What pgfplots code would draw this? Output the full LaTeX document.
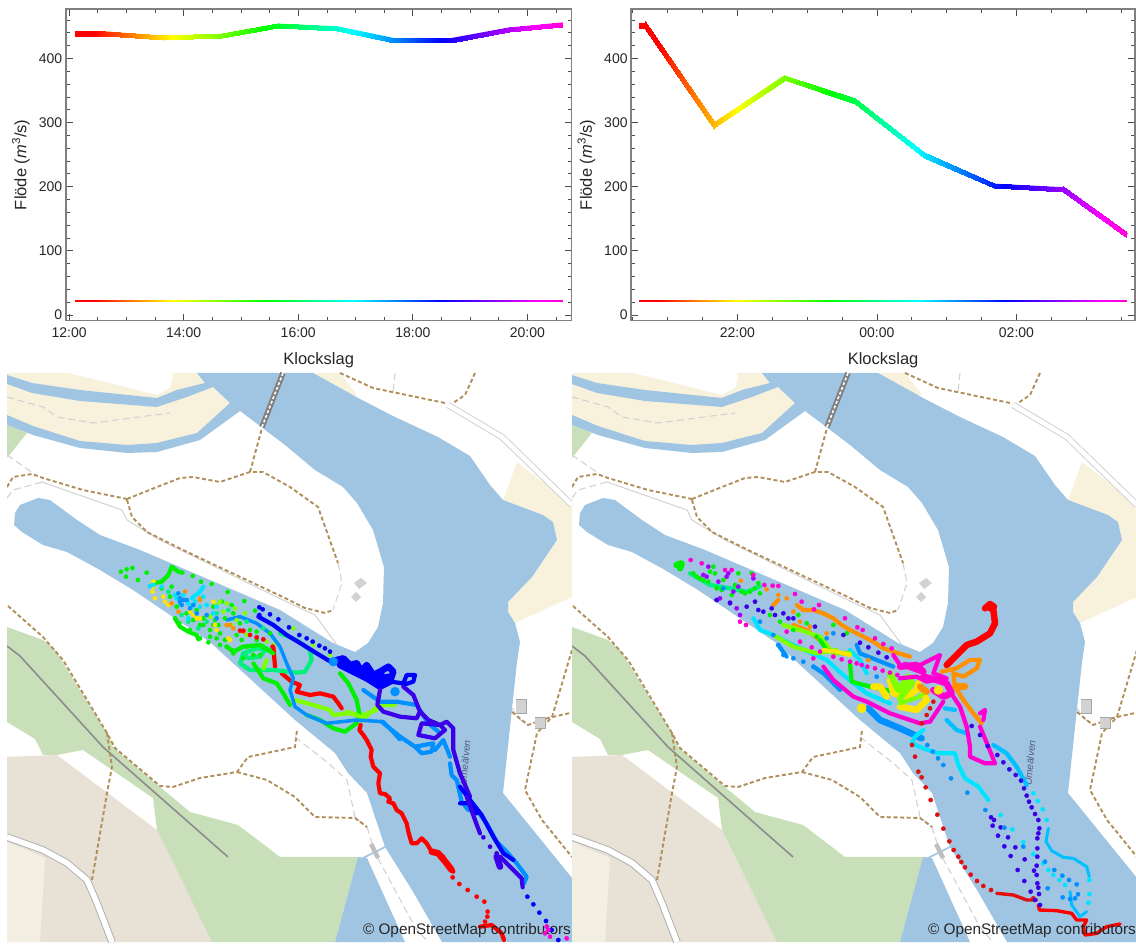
\documentclass[border=0pt]{standalone}
\usepackage{fontspec}
\setmainfont{Liberation Sans}
\usepackage{pgfplots}
\pgfplotsset{compat=1.18}
\definecolor{wat}{HTML}{A0C5E3}
\definecolor{crm}{HTML}{F8F2DD}
\definecolor{grn}{HTML}{C9DFB9}
\definecolor{tan1}{HTML}{E8E1D5}
\definecolor{tan2}{HTML}{F3EFE2}
\definecolor{pth}{HTML}{B08F5B}
\definecolor{gl}{HTML}{D2D2D2}
\definecolor{cre}{HTML}{FF0000}
\definecolor{cdr}{HTML}{E01010}
\definecolor{cor}{HTML}{FF9000}
\definecolor{cyl}{HTML}{FFE600}
\definecolor{clm}{HTML}{80FF00}
\definecolor{cgr}{HTML}{00F000}
\definecolor{csg}{HTML}{00F080}
\definecolor{ccy}{HTML}{00E5FF}
\definecolor{cc2}{HTML}{00C0FF}
\definecolor{caz}{HTML}{0090FF}
\definecolor{cbl}{HTML}{0000FF}
\definecolor{cvi}{HTML}{3A00E8}
\definecolor{cpu}{HTML}{A000FF}
\definecolor{cmg}{HTML}{FF00D0}
\pgfplotsset{
  colormap={rb}{rgb255(0cm)=(255,0,0); rgb255(0.4cm)=(255,0,0); rgb255(2cm)=(255,255,0); rgb255(3.9cm)=(0,255,0); rgb255(5.7cm)=(0,255,255); rgb255(7.5cm)=(0,0,255); rgb255(9.5cm)=(255,0,255); rgb255(10cm)=(255,0,210)},
  z3/.style={x filter/.expression={100+x/3},y filter/.expression={550+y/3}},
  z4/.style={x filter/.expression={300+x/3},y filter/.expression={640+y/3}},
  z5/.style={x filter/.expression={95+x/3},y filter/.expression={550+y/3}},
  z6/.style={x filter/.expression={315+x/3},y filter/.expression={720+y/3}},
  z11/.style={x filter/.expression={295+x/3},y filter/.expression={590+y/3}},
  trk/.style={line width=4.2pt,line cap=round,line join=round},
  trb/.style={line width=6.5pt,line cap=round,line join=round},
  dot/.style={only marks,mark=*,mark size=2.1pt,mark options={draw=none,solid}},
  pd/.style={color=pth,line width=1.9pt,dash pattern=on 4pt off 2.6pt},
  gd/.style={color=gl,line width=1.1pt,dash pattern=on 7pt off 4pt},
  topax/.style={
    scale only axis, anchor=center, colormap name=rb,
    ymin=-8.9,ymax=477,
    ytick={0,100,200,300,400},
    minor ytick={20,40,60,80,120,140,160,180,220,240,260,280,320,340,360,380,420,440,460},
    major tick length=7pt, minor tick length=4pt,
    every tick/.style={color=black!70,line width=0.7pt},
    axis line style={color=black!50,line width=1.4pt},
    tick label style={font=\fontsize{14}{16}\selectfont,text=black!85},
    xticklabel style={yshift=-4pt},
    /pgf/number format/assume math mode=true,
    xlabel={Klockslag}, ylabel={Flöde (\textit{m}\textsuperscript{3}/s)},
    every axis x label/.style={at={(axis description cs:0.5,-0.126)},anchor=center,font=\fontsize{16.5}{18}\selectfont,text=black!85},
    every axis y label/.style={at={(axis description cs:-0.0886,0.5)},rotate=90,anchor=center,font=\fontsize{16.5}{18}\selectfont,text=black!85},
    shader=interp,
  },
  mapax/.style={scale only axis,hide axis,anchor=center,width=565pt,height=569pt,
    xmin=7,xmax=572,ymin=373,ymax=942,y dir=reverse,clip=true},
}
\newcommand\maplayer{%
\addplot[fill=crm,draw=none] coordinates {(7,373)(197,373)(232,405)(200,435)(157,446)(127,448)(80,443)(33,428)(7,417)};
\addplot[fill=white,draw=none] coordinates {(68,373)(110,383)(157,395)(170,388)(173,377)(172,373)};
\addplot[fill=crm,draw=none] coordinates {(313,373)(340,373)(357,395)(340,395)};
\addplot[fill=crm,draw=none] coordinates {(517,462)(572,505)(572,597)(515,623)(508,612)(508,602)(532,577)(557,540)(553,522)(543,515)(503,500)};
\addplot[fill=grn,draw=none] coordinates {(7,425)(27,433)(7,458)};
\addplot[fill=tan1,draw=none] coordinates {(7,757)(57,755)(157,830)(212,942)(7,942)};
\addplot[fill=tan2,draw=none] coordinates {(7,842)(45,858)(40,942)(7,942)};
\addplot[fill=grn,draw=none] coordinates {(7,627)(43,640)(55,650)(107,733)(113,747)(160,787)(190,812)(238,825)(267,847)(280,857)(358,857)(335,942)(212,942)(157,830)(153,798)(83,750)(57,755)(43,755)(35,739)(7,722)};
\addplot[fill=wat,draw=none] coordinates {(197,373)(313,373)(360,399)(395,417)(438,437)(470,456)(490,485)(503,500)(543,515)(553,522)(557,540)(532,577)(508,602)(508,612)(515,623)(520,642)(517,662)(503,793)(572,878)(572,942)(442,942)(412,890)(385,847)(367,793)(348,773)(335,753)(295,720)(210,642)(133,590)(100,570)(67,552)(43,545)(22,532)(14,525)(15,513)(20,505)(38,498)(50,500)(77,520)(100,535)(140,550)(280,610)(333,643)(355,652)(368,643)(378,627)(383,603)(384,567)(373,530)(357,503)(343,487)(315,470)(285,445)(260,426)(240,411)(200,440)(157,452)(127,453)(80,448)(33,435)(7,425)(7,415)(33,426)(80,441)(127,445)(157,443)(197,433)(230,403)(213,387)(187,397)(157,407)(80,401)(32,393)(7,384)(7,375)(32,383)(80,390)(157,398)(177,390)(205,383)(197,373)};
\addplot[fill=wat,draw=none] coordinates {(358,857)(335,942)(405,942)(367,858)};
\addplot[color=wat,line width=1.6pt] coordinates {(363,858)(385,847)};
\addplot[color=black!30,line width=7.5pt] coordinates {(7,837)(43,850)(67,863)(87,880)(97,903)(112,942)};
\addplot[color=white,line width=5.5pt] coordinates {(7,837)(43,850)(67,863)(87,880)(97,903)(112,942)};
\addplot[color=gl,line width=6.5pt] coordinates {(448,405)(502,437)(572,505)};
\addplot[color=white,line width=4.5pt] coordinates {(448,405)(502,437)(572,505)};
\addplot[color=black!45,line width=1.6pt] coordinates {(7,646)(20,656)(103,747)(228,857)};
\addplot[color=gl,line width=1pt] coordinates {(42,482)(122,510)(127,520)(160,540)(287,602)(315,615)(337,645)};
\addplot[color=black!50,line width=5.5pt] coordinates {(283,373)(262,427)};
\addplot[color=white,line width=1.6pt,dash pattern=on 3pt off 2pt] coordinates {(283,373)(262,427)};
\addplot[gd] coordinates {(7,397)(43,407)(57,417)(93,423)(170,413)};
\addplot[gd] coordinates {(7,455)(33,473)};
\addplot[gd] coordinates {(7,498)(13,490)(42,482)};
\addplot[gd] coordinates {(338,563)(342,583)(333,610)};
\addplot[gd] coordinates {(395,373)(393,392)};
\addplot[gd] coordinates {(295,737)(328,763)(347,780)(355,817)(367,827)(375,853)(415,927)(428,942)};
\addplot[gd] coordinates {(512,708)(518,718)(528,725)};
\addplot[pd] coordinates {(7,487)(13,477)(32,474)(43,478)(83,490)(127,499)};
\addplot[pd] coordinates {(127,499)(157,487)(180,478)(193,477)(220,482)(250,472)(263,472)(290,487)(318,507)(338,563)};
\addplot[pd] coordinates {(250,472)(262,428)};
\addplot[pd] coordinates {(127,500)(132,517)(147,532)(183,550)(285,598)(305,608)(325,613)(333,610)};
\addplot[pd] coordinates {(340,373)(373,388)(445,403)};
\addplot[pd] coordinates {(475,373)(465,395)(453,403)};
\addplot[pd] coordinates {(8,606)(43,637)(63,660)(107,733)(115,748)(160,786)(173,787)(200,778)(237,772)(248,757)(295,747)(297,730)};
\addplot[pd] coordinates {(237,772)(267,780)(295,797)(315,817)(355,818)(367,827)};
\addplot[pd] coordinates {(107,733)(112,767)(107,793)(92,880)};
\addplot[pd] coordinates {(572,650)(552,717)(537,733)(525,790)(542,820)(572,857)};
\addplot[pd] coordinates {(512,712)(528,725)(548,718)(570,713)};
\addplot[fill=gl,draw=none] coordinates {(361,578)(367,583)(359,589)(354,583)};
\addplot[fill=gl,draw=none] coordinates {(356,592)(361,597)(356,602)(351,597)};
\addplot[fill=gl,draw=black!35,line width=0.5pt] coordinates {(516,699)(526,699)(526,713)(516,713)};
\addplot[fill=gl,draw=black!35,line width=0.5pt] coordinates {(535,717)(545,717)(545,728)(535,728)};
\addplot[fill=black!25,draw=none] coordinates {(369,845)(373,843)(380,857)(376,859)};
\node[rotate=85,text=black!45!blue!30!gray,font=\fontsize{10}{12}\selectfont\itshape] at (axis cs:465,763) {Umeälven};
}
\newcommand\mapcredit{%
\node[anchor=east,text=black!85,font=\fontsize{15.3}{17}\selectfont,inner sep=0pt] at (axis cs:571,931) {© OpenStreetMap contributors};
}
\begin{document}
\begin{tikzpicture}
\path[use as bounding box] (0pt,0pt) rectangle (1136pt,944pt);
%--- top left
\begin{axis}[topax,width=505.7pt,height=311.7pt,at={(318.65pt,779.15pt)},
  xmin=11.942,xmax=20.77,xtick={12,14,16,18,20},xticklabels={12:00,14:00,16:00,18:00,20:00},
  minor xtick={12.5,13,13.5,14.5,15,15.5,16.5,17,17.5,18.5,19,19.5,20.5},
  point meta min=12.095,point meta max=20.62]
\addplot[mesh,point meta=x,line width=4pt] coordinates {(12.095,439)(12.635,439)(13.65,432)(14.67,435)(15.65,451)(16.67,447)(17.67,428.6)(18.67,428.6)(19.68,445)(20.62,453)};
\addplot[patch,patch type=rectangle,point meta=x] coordinates {
(12.095,435.1)(12.635,435.1)(12.635,442.9)(12.095,442.9)
(12.635,435.1)(13.65,428.1)(13.65,435.9)(12.635,442.9)
(13.65,428.1)(14.67,431.1)(14.67,438.9)(13.65,435.9)
(14.67,431.1)(15.65,447.1)(15.65,454.9)(14.67,438.9)
(15.65,447.1)(16.67,443.1)(16.67,450.9)(15.65,454.9)
(16.67,443.1)(17.67,424.7)(17.67,432.5)(16.67,450.9)
(17.67,424.7)(18.67,424.7)(18.67,432.5)(17.67,432.5)
(18.67,424.7)(19.68,441.1)(19.68,448.9)(18.67,432.5)
(19.68,441.1)(20.62,449.1)(20.62,456.9)(19.68,448.9)};
\addplot[patch,patch type=rectangle,point meta=x] coordinates {
(12.095,20.5)(20.62,20.5)(20.62,23.1)(12.095,23.1)};
\end{axis}
%--- top right
\begin{axis}[topax,width=504pt,height=311.7pt,at={(883.1pt,779.15pt)},
  xmin=20.478,xmax=27.70,xtick={22,24,26},xticklabels={22:00,00:00,02:00},
  minor xtick={20.5,21,21.5,22.5,23,23.5,24.5,25,25.5,26.5,27,27.5},
  point meta min=20.59,point meta max=27.58]
\addplot[mesh,point meta=x,line width=4pt] coordinates {(20.59,452)(20.68,452)(21.67,296)(22.67,370)(23.68,333.5)(24.68,249.4)(25.68,201.6)(26.67,196)(27.58,124.7)};
\addplot[patch,patch type=rectangle,point meta=x] coordinates {
(20.59,448.1)(20.68,448.1)(20.68,455.9)(20.59,455.9)
(20.68,445.14)(21.67,289.14)(21.67,302.86)(20.68,458.86)
(21.67,291.28)(22.67,365.28)(22.67,374.72)(21.67,300.72)
(22.67,365.89)(23.68,329.39)(23.68,337.61)(22.67,374.11)
(23.68,328.57)(24.68,244.47)(24.68,254.33)(23.68,338.43)
(24.68,245.14)(25.68,197.34)(25.68,205.86)(24.68,253.66)
(25.68,197.68)(26.67,192.08)(26.67,199.92)(25.68,205.52)
(26.67,191.19)(27.58,119.89)(27.58,129.51)(26.67,200.81)};
\addplot[patch,patch type=rectangle,point meta=x] coordinates {
(20.59,20.5)(27.58,20.5)(27.58,23.1)(20.59,23.1)};
\end{axis}
%--- map left
\begin{axis}[mapax,at={(289.5pt,286.5pt)}]
\maplayer
\addplot[dot,color=cgr,z3] coordinates {(63,65)(80,58)(97,54)(78,80)(114,90)(140,68)(185,115)(215,110)(278,78)(303,95)(335,102)(383,126)(433,153)(465,182)(210,140)(230,170)(225,205)(238,220)(300,265)(325,277)(270,240)(330,240)(310,225)(345,210)(360,250)(400,190)(420,220)(450,240)(470,245)(360,285)(380,290)(510,250)(260,190)(290,180)(340,170)(365,155)(395,165)(300,225)(355,225)(410,255)(440,290)(470,270)(395,300)(430,325)(460,315)(480,315)(280,210)(310,205)(340,225)(375,205)(330,260)(350,265)(375,270)(425,270)(490,290)(400,310)};
\addplot[dot,color=csg,z3] coordinates {(265,215)(295,235)(320,215)(350,190)(385,180)(440,215)(490,235)(245,195)(205,125)};
\addplot[dot,color=clm,z3] coordinates {(360,155)(380,160)(405,175)(435,190)(410,210)(520,285)(330,200)(580,235)(640,285)(690,315)(350,165)(370,185)(395,225)(440,255)(500,275)};
\addplot[trk,color=cgr,z3] coordinates {(160,100)(185,95)(205,75)(215,50)(235,65)(248,68)};
\addplot[trk,color=cgr,z3] coordinates {(225,205)(240,230)(265,245)(290,255)(295,268)};
\addplot[dot,color=cyl,z3] coordinates {(160,95)(158,125)(165,145)(190,140)(205,165)(270,185)(290,205)(300,205)(350,240)(390,270)(340,155)(160,110)(195,155)(280,195)(345,225)(385,265)};
\addplot[dot,color=cor,z3] coordinates {(300,145)(235,185)(380,225)(400,235)(430,245)(255,125)(215,160)(300,150)(390,225)};
\addplot[dot,color=cre,z3] coordinates {(450,255)(470,262)(490,268)(420,242)(518,290)(430,242)};
\addplot[trk,color=cre,z3] coordinates {(520,290)(525,350)};
\addplot[trk,color=cre,z3] coordinates {(545,370)(575,395)(600,405)(590,425)(630,435)(660,430)(700,440)(715,460)(725,475)};
\addplot[trk,color=csg,z3] coordinates {(540,250)(590,270)(630,300)(635,330)(615,365)(590,368)(520,360)(450,360)(420,340)(430,310)(470,295)(510,300)};
\addplot[trk,color=csg,z3] coordinates {(430,310)(445,325)(480,320)(500,295)};
\addplot[trk,color=cgr,z3] coordinates {(380,290)(400,305)(430,290)(480,285)(520,310)};
\addplot[trk,color=clm,z3] coordinates {(500,330)(490,355)};
\addplot[trk,color=cgr,z3] coordinates {(460,340)(490,385)(530,400)(550,430)(570,465)};
\addplot[trk,color=clm,z3] coordinates {(585,450)(640,465)(690,480)(700,495)(745,490)(790,495)(830,480)};
\addplot[trk,color=cgr,z3] coordinates {(720,370)(745,400)(770,450)(778,490)(770,520)(735,545)(700,535)(660,510)(620,495)};
\addplot[trk,color=clm,z4] coordinates {(140,215)(170,225)(190,235)(215,215)(235,195)(285,195)(255,185)};
\addplot[dot,color=ccy,z3] coordinates {(150,108)(160,105)(185,110)(225,135)(240,160)(255,150)(275,170)(300,170)(320,165)(340,190)(350,170)(310,140)(265,205)(230,145)(250,135)(285,155)(265,160)};
\addplot[trk,color=ccy,z3] coordinates {(275,145)(300,125)(310,110)};
\addplot[dot,color=caz,z3] coordinates {(235,130)(245,165)(240,145)(260,150)(290,190)(320,195)(350,205)(270,175)(250,150)(280,165)(240,155)};
\addplot[trk,color=caz,line width=3.5pt,z3] coordinates {(380,210)(420,200)(470,220)(510,250)(540,290)(560,340)(580,385)(570,420)(585,470)(620,495)(680,520)(770,510)(850,515)(900,570)};
\addplot[trk,color=caz,z4] coordinates {(245,245)(300,290)(345,320)(400,310)(395,335)(365,340)(345,320)};
\addplot[trk,color=caz,z4] coordinates {(190,150)(240,185)(290,185)(350,195)(385,250)(415,275)};
\addplot[trk,color=caz,z4] coordinates {(405,330)(430,300)(450,350)};
\addplot[trk,color=caz,z4] coordinates {(450,370)(455,405)(470,420)(485,485)(505,510)(530,510)(560,550)(590,605)(620,635)(650,670)(680,710)(672,730)};
\addplot[dot,mark size=4.5pt,color=caz,z4] coordinates {(285,155)(100,65)};
\addplot[dot,color=cbl,z3] coordinates {(478,172)(488,178)(478,195)(510,193)(535,208)(567,232)(598,255)(620,265)(638,275)(658,287)(675,295)(690,305)};
\addplot[trk,color=cbl,z3] coordinates {(475,200)(520,225)(560,255)(610,285)(650,310)(700,340)};
\addplot[trb,color=cbl,z4] coordinates {(110,60)(130,55)(150,75)(170,70)(185,95)(200,75)(220,105)(240,95)(265,80)(280,95)(270,125)(240,140)(200,115)(150,90)(120,75)(170,90)(220,110)(250,110)(235,125)(265,110)};
\addplot[trk,color=cbl,z4] coordinates {(270,125)(310,130)(320,105)(345,105)(340,125)(310,135)};
\addplot[trk,color=cvi,z4] coordinates {(240,150)(232,195)(250,215)(300,230)(350,235)(360,215)(340,165)(310,140)};
\addplot[trk,color=cvi,z4] coordinates {(360,215)(385,240)(420,255)(440,245)(460,265)(460,330)(480,400)(510,470)};
\addplot[trk,color=cvi,z4] coordinates {(355,285)(405,295)(435,270)(420,255)(365,250)(355,285)};
\addplot[trk,color=cbl,z4] coordinates {(480,440)(510,480)(545,525)(580,590)(610,640)(640,660)};
\addplot[trk,color=cbl,z4] coordinates {(480,490)(510,490)(530,520)};
\addplot[trk,color=cvi,z4] coordinates {(500,470)(525,540)(540,580)};
\addplot[trb,color=cvi,z4] coordinates {(590,650)(600,680)};
\addplot[trk,color=cvi,z4] coordinates {(600,650)(630,680)(665,715)(668,742)};
\addplot[dot,color=cvi,z4] coordinates {(550,592)(570,620)(590,640)};
\addplot[dot,color=cbl,z4] coordinates {(682,770)(700,793)(718,818)(738,843)(755,870)(775,900)};
\addplot[dot,color=cre,z4] coordinates {(458,712)(478,732)(503,750)(530,770)(553,785)(563,815)(562,830)(555,845)};
\addplot[trk,color=cre,z4] coordinates {(182,255)(178,270)(190,285)(200,300)(215,330)(212,350)(220,380)(240,400)(235,430)(240,460)(255,462)(270,475)(265,485)(280,490)(290,510)(305,520)(320,550)(325,575)(335,610)(350,610)(365,595)(380,610)(395,635)(415,640)(430,650)(440,675)(460,695)};
\addplot[trb,color=cre,z4] coordinates {(395,635)(415,640)(440,670)(455,690)};
\addplot[trk,color=cre,z4] coordinates {(540,860)(575,855)(605,880)(612,900)};
\addplot[dot,color=cmg,z4] coordinates {(740,860)(735,880)(750,890)(745,870)(800,895)};
\mapcredit
\end{axis}
%--- map right
\begin{axis}[mapax,at={(854.5pt,286.5pt)}]
\maplayer
\addplot[trb,color=cgr,z5] coordinates {(50,45)(65,40)(60,55)};
\addplot[dot,color=cgr,z5] coordinates {(100,70)(130,90)(160,50)(165,70)(190,90)(235,70)(270,125)(300,130)(255,130)(215,135)(275,70)(120,85)(150,65)(185,120)(295,100)(360,215)(400,240)(470,260)(560,250)(520,225)(110,80)(145,95)(170,115)(225,105)(245,125)(285,115)(330,195)(415,195)(440,220)};
\addplot[trk,color=csg,z5] coordinates {(90,70)(150,105)(210,115)(260,125)(300,110)};
\addplot[dot,color=cor,z5] coordinates {(243,92)(320,118)(355,135)(380,145)(420,215)(450,230)(500,250)(400,185)(430,180)(520,320)(625,330)};
\addplot[trk,color=cor,z5] coordinates {(410,165)(430,180)(460,180)(490,190)(520,205)(545,225)(570,240)(600,255)(640,275)(670,295)(700,305)(750,320)};
\addplot[trk,color=cor,z5] coordinates {(340,165)(355,150)};
\addplot[trk,color=cor,z5] coordinates {(400,225)(440,240)(480,270)};
\addplot[trk,color=ccy,z5] coordinates {(280,205)(300,240)(340,255)(400,285)(500,330)(550,375)(620,430)(690,460)};
\addplot[trk,color=ccy,z5] coordinates {(570,300)(600,330)(620,370)};
\addplot[trk,color=clm,z5] coordinates {(340,255)(400,290)(470,310)(530,300)};
\addplot[trk,color=clm,z5] coordinates {(370,225)(420,240)(480,260)(520,310)(570,310)};
\addplot[trk,color=cgr,z5] coordinates {(480,270)(500,300)(550,310)};
\addplot[trk,color=cgr,z5] coordinates {(570,340)(575,395)(630,410)(680,420)(720,430)(750,400)};
\addplot[trk,color=cyl,z5] coordinates {(490,300)(530,305)(570,315)};
\addplot[trb,color=cyl,z5] coordinates {(640,410)(660,410)(680,440)};
\addplot[trb,color=cyl,z5] coordinates {(690,390)(700,430)(740,440)(770,420)(775,400)};
\addplot[trb,color=cyl,z5] coordinates {(720,470)(770,480)(800,450)(790,430)};
\addplot[trb,color=clm,z5] coordinates {(690,370)(715,420)(745,380)(755,400)(720,445)};
\addplot[trk,color=clm,z5] coordinates {(720,460)(780,440)(800,420)};
\addplot[dot,mark size=4.5pt,color=cyl,z5] coordinates {(605,475)(835,420)};
\addplot[dot,color=caz,z5] coordinates {(340,255)(355,285)(370,315)(400,325)(430,335)(460,350)(520,250)(500,265)(650,380)(190,115)(300,215)};
\addplot[trk,color=caz,z5] coordinates {(355,285)(380,320)};
\addplot[trk,color=caz,z5] coordinates {(460,350)(490,370)(540,420)};
\addplot[trk,color=caz,z5] coordinates {(590,285)(600,310)(650,330)(700,350)};
\addplot[trb,color=caz,z5] coordinates {(625,475)(660,510)(720,535)(785,565)};
\addplot[dot,color=cdr,z5] coordinates {(820,455)(810,475)(800,495)(785,520)};
\addplot[dot,color=cpu,z5] coordinates {(130,75)(145,50)(175,95)(205,70)(170,150)(180,145)(220,125)(235,110)(230,175)(240,195)(210,160)(280,85)(200,80)(140,80)};
\addplot[dot,color=cvi,z5] coordinates {(170,150)(210,158)(260,170)(285,155)(295,180)(310,185)(335,175)(345,195)(370,190)(385,205)(400,205)(465,230)(550,255)(600,278)(625,292)(655,308)(680,322)};
\addplot[dot,color=cmg,z5] coordinates {(92,30)(125,40)(195,60)(215,60)(240,215)(258,225)(280,75)(313,105)(338,107)(355,108)(405,132)(425,155)(462,178)(477,165)(555,205)(592,232)(608,240)(645,265)(670,282)(695,295)(460,325)(520,320)(545,328)(570,335)(590,340)(605,345)(622,350)(645,355)(668,362)(690,368)(712,375)(380,245)(420,275)(455,292)(480,305)};
\addplot[trb,color=cre,z11] coordinates {(385,50)(400,60)(405,100)(390,130)(350,155)(320,165)(295,190)(260,225)};
\addplot[trb,color=cre,z11] coordinates {(375,55)(390,42)(402,50)};
\addplot[trk,color=cor,z11] coordinates {(245,245)(290,235)(330,210)(360,210)(350,235)(310,260)(280,250)(285,290)(310,330)(340,370)(365,400)};
\addplot[trb,color=cor,z11] coordinates {(285,290)(315,290)};
\addplot[trb,color=cor,z11] coordinates {(180,290)(200,305)};
\addplot[trk,color=cc2,z5] coordinates {(855,475)(885,480)};
\addplot[trk,color=cc2,z5] coordinates {(860,510)(890,540)(920,550)};
\addplot[trk,color=cmg,z5] coordinates {(490,350)(520,390)(580,440)(620,455)(690,490)(780,520)(810,515)(850,455)};
\addplot[trk,color=cmg,z5] coordinates {(700,315)(720,345)(780,345)(840,315)(820,370)(860,385)};
\addplot[trb,color=cmg,z5] coordinates {(720,350)(770,345)(790,365)(735,345)(780,360)};
\addplot[trk,color=cmg,z5] coordinates {(720,385)(770,380)(800,395)(850,385)};
\addplot[trb,color=cmg,z5] coordinates {(820,420)(850,440)(875,430)(860,400)(830,390)(790,380)};
\addplot[trk,color=cmg,z5] coordinates {(880,440)(900,470)(920,530)(930,590)(930,620)(975,640)(1005,640)(985,590)(960,530)};
\addplot[trk,color=cmg,z5] coordinates {(960,490)(975,480)(970,510)};
\addplot[dot,color=cdr,z6] coordinates {(96,75)(105,110)(115,155)(125,172)(137,202)(152,240)(172,284)(190,326)(208,364)(221,390)(235,410)(244,426)(255,442)(272,464)(291,483)(310,498)(333,510)(460,535)};
\addplot[trk,color=cdr,z6,line width=3.4pt] coordinates {(350,520)(400,525)(440,540)(470,540)};
\addplot[trk,color=cre,z6,line width=3.4pt] coordinates {(475,555)(478,570)(530,572)(575,580)(590,600)(620,600)(610,620)(615,645)(650,640)(680,620)(720,612)};
\addplot[trk,color=ccy,z6] coordinates {(130,30)(105,50)(95,70)(130,85)(175,100)(225,100)(235,135)(255,175)(295,200)(325,240)};
\addplot[dot,color=ccy,z6] coordinates {(362,285)(397,328)(430,367)(460,403)(490,430)(505,450)(520,465)(538,480)(555,495)(460,220)(473,243)(488,268)(500,300)(628,522)(625,548)(628,480)};
\addplot[trk,color=cc2,line width=3pt,z6] coordinates {(505,325)(498,365)(515,392)(550,412)(580,415)(620,440)(628,470)};
\addplot[trk,color=cc2,line width=3pt,z6] coordinates {(570,515)(575,555)(600,590)(620,575)};
\addplot[trk,color=cc2,z6] coordinates {(340,75)(380,100)(410,140)(440,195)};
\addplot[dot,color=cvi,z6] coordinates {(275,18)(300,45)(323,78)(352,105)(370,127)(388,148)(407,165)(423,182)(432,205)(440,227)(447,245)(455,262)(465,282)(475,300)(478,325)(475,340)(472,355)(472,385)(472,410)(470,437)(462,452)(470,465)(472,490)(475,503)(477,522)(480,555)(465,540)(452,515)(433,483)(413,450)(434,418)(406,382)(392,408)(373,379)(384,352)(354,347)(362,322)(338,317)(342,300)(333,292)};
\addplot[dot,color=caz,z6] coordinates {(142,75)(158,95)(174,115)(190,135)(213,175)(262,218)(316,270)(373,323)(430,380)(495,425)(523,450)(547,467)(567,480)(590,493)(594,523)(585,535)(570,537)(548,532)(503,505)};
\mapcredit
\end{axis}
\end{tikzpicture}
\end{document}
